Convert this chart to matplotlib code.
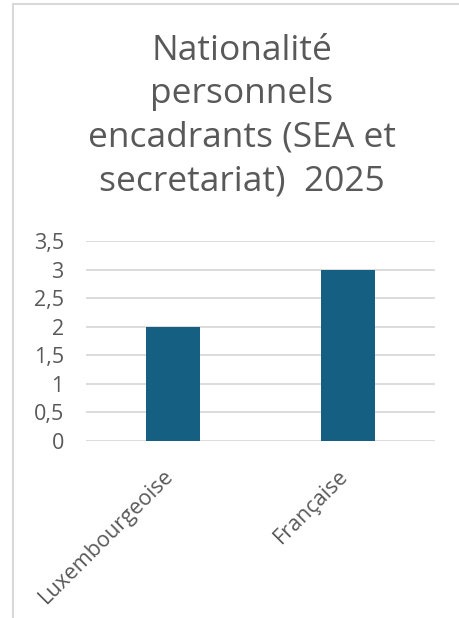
import matplotlib
matplotlib.use("Agg")
import matplotlib.pyplot as plt
from matplotlib.lines import Line2D
from matplotlib.ticker import FuncFormatter
from matplotlib.transforms import ScaledTranslation

categories = ["Luxembourgeoise", "Française"]
values = [2, 3]
yticks = [0, 0.5, 1, 1.5, 2, 2.5, 3, 3.5]
title = "Nationalité\npersonnels\nencadrants (SEA et\nsecretariat)  2025"

W, H = 459, 618
fig = plt.figure(figsize=(W/100, H/100), dpi=100)
plt.rcParams['font.family'] = ['Open Sans', 'DejaVu Sans']

# frame borders
fig.add_artist(Line2D([13/W, 13/W], [0, 1 - 4/H], transform=fig.transFigure, color='#d9d9d9', lw=1.5))
fig.add_artist(Line2D([13/W, 1], [1 - 4/H, 1 - 4/H], transform=fig.transFigure, color='#d9d9d9', lw=1.5))

ax = fig.add_axes([86/W, 1 - 441/H, (435-86)/W, (441-241)/H])
ax.bar(range(len(categories)), values, width=0.31, color='#156082', zorder=3)
ax.set_xlim(-0.5, 1.5)
ax.set_ylim(0, 3.5)
ax.set_yticks(yticks)
ax.yaxis.set_major_formatter(FuncFormatter(lambda v, p: (f"{v:g}").replace('.', ',')))
ax.grid(axis='y', color='#d9d9d9', lw=1.3, zorder=0)
for s in ax.spines.values():
    s.set_visible(False)
ax.tick_params(axis='both', length=0, colors='#595959', labelsize=15.5)
ax.tick_params(axis='y', pad=16)
ax.set_xticks(range(len(categories)))
ax.set_xticklabels(categories, rotation=45, ha='right', rotation_mode='anchor')
ax.tick_params(axis='x', pad=16)
off = ScaledTranslation(-10/100, -2/100, fig.dpi_scale_trans)
for lbl in ax.get_xticklabels():
    lbl.set_transform(lbl.get_transform() + off)

fig.text(242/W, 1 - 34/H, title, ha='center', va='top', fontsize=25.5, color='#595959', linespacing=1.36)

fig.savefig("out.png", dpi=100)
